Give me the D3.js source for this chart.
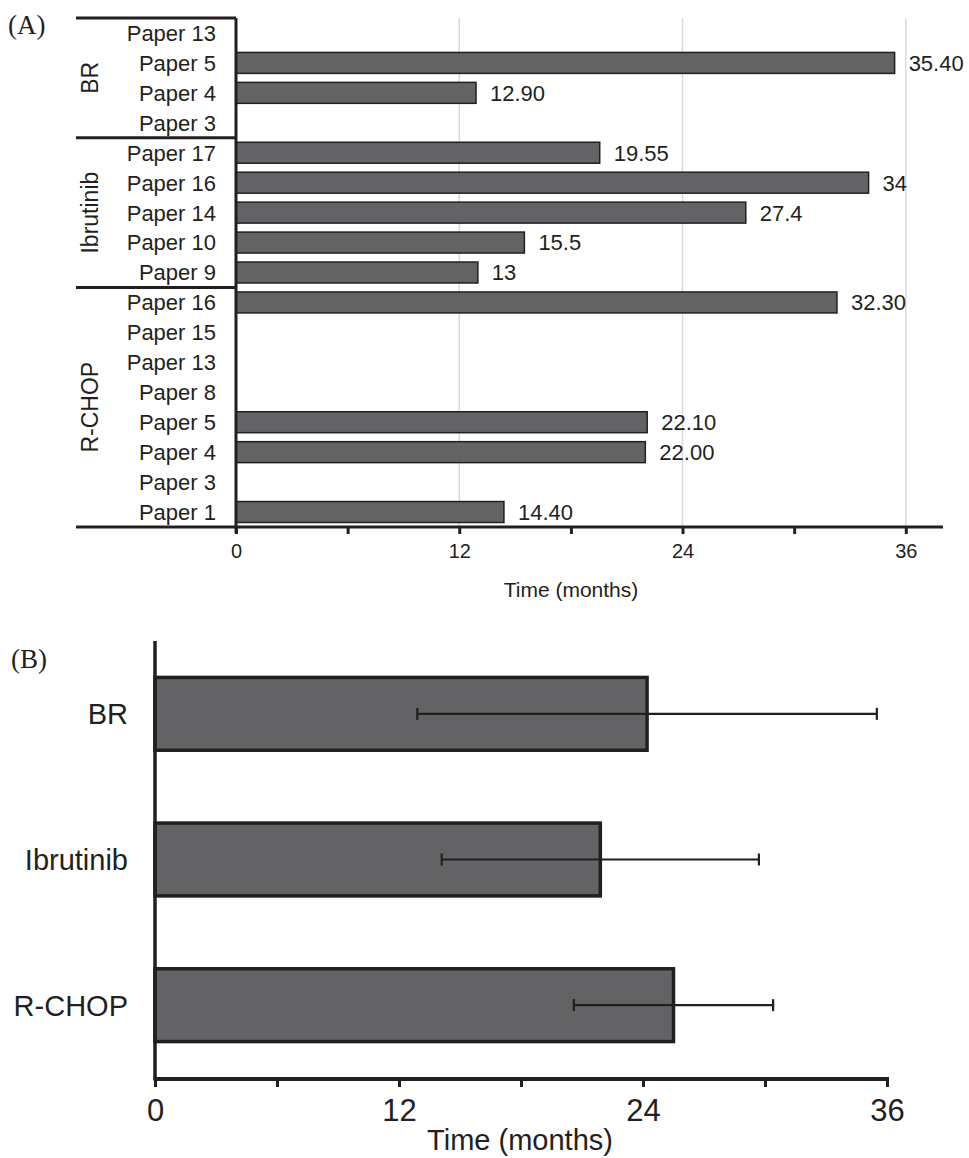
<!doctype html>
<html>
<head>
  <title>Time (months) by paper and treatment</title>
  <script src="https://d3js.org/d3.v7.min.js"></script>
  <style>
  body {
    margin: 0;
    background: #fff;
  }

  svg {
    font-family: "Liberation Sans", Arial, sans-serif;
    fill: #231f20;
  }

  .panel-tag {
    font-family: "Liberation Serif", "Times New Roman", serif;
    font-size: 27px;
  }

  .grid line {
    stroke: #dadada;
    stroke-width: 1.5;
  }

  .axis path {
    display: none;
  }

  .axis line {
    stroke: #231f20;
    stroke-width: 3;
  }

  .axis text {
    fill: #231f20;
    font-family: "Liberation Sans", Arial, sans-serif;
  }

  .bar {
    fill: #636365;
    stroke: #231f20;
  }
</style>
</head>
<body>
  <script>
    // panel A: one row per paper, grouped by regimen
    var groups = ["BR", "Ibrutinib", "R-CHOP"];
    var groupSizes = [4, 5, 8];
    var papers = ["Paper 13", "Paper 5", "Paper 4", "Paper 3",
                  "Paper 17", "Paper 16", "Paper 14", "Paper 10", "Paper 9",
                  "Paper 16", "Paper 15", "Paper 13", "Paper 8", "Paper 5", "Paper 4", "Paper 3", "Paper 1"];
    var values = [null, 35.40, 12.90, null,
                  19.55, 34, 27.4, 15.5, 13,
                  32.30, null, null, null, 22.10, 22.00, null, 14.40];
    var valueLabels = ["", "35.40", "12.90", "",
                       "19.55", "34", "27.4", "15.5", "13",
                       "32.30", "", "", "", "22.10", "22.00", "", "14.40"];
    var ticksA = [0, 6, 12, 18, 24, 30, 36];

    // panel B: summary bar with whiskers per regimen
    var summaryMeans = [24.2, 21.9, 25.5];
    var summaryLow = [12.9, 14.1, 20.6];
    var summaryHigh = [35.5, 29.7, 30.4];
    var ticksB = [0, 6, 12, 18, 24, 30, 36];

    var svg = d3.select("body").append("svg")
        .attr("width", 969)
        .attr("height", 1158);

    // ---------- panel A ----------
    var rows = papers.map(function(p, i){
      return {key: i, paper: p, value: values[i], label: valueLabels[i]};
    });

    var xA = d3.scaleLinear()
        .domain([0, 38])
        .range([236, 943]);

    var yA = d3.scaleBand()
        .domain(rows.map(function(d){ return d.key; }))
        .range([18, 527])
        .paddingInner(0.3)
        .paddingOuter(0.15);

    svg.append("text")
        .attr("class", "panel-tag")
        .attr("x", 8)
        .attr("y", 34)
        .text("(A)");

    svg.append("g")
        .attr("class", "grid")
      .selectAll("line")
        .data([12, 24, 36])
      .enter().append("line")
        .attr("x1", function(d){ return xA(d); })
        .attr("x2", function(d){ return xA(d); })
        .attr("y1", 18)
        .attr("y2", 527);

    svg.append("g")
      .selectAll("rect")
        .data(rows.filter(function(d){ return d.value !== null; }))
      .enter().append("rect")
        .attr("class", "bar")
        .attr("stroke-width", 1.5)
        .attr("x", xA(0))
        .attr("y", function(d){ return yA(d.key); })
        .attr("width", function(d){ return xA(d.value) - xA(0); })
        .attr("height", yA.bandwidth());

    svg.append("g")
      .selectAll("text")
        .data(rows.filter(function(d){ return d.value !== null; }))
      .enter().append("text")
        .attr("x", function(d){ return xA(d.value) + 14; })
        .attr("y", function(d){ return yA(d.key) + yA.bandwidth() / 2; })
        .attr("dy", "0.36em")
        .style("font-size", "22px")
        .text(function(d){ return d.label; });

    // paper labels
    svg.append("g")
      .selectAll("text")
        .data(rows)
      .enter().append("text")
        .attr("x", 216)
        .attr("y", function(d){ return yA(d.key) + yA.bandwidth() / 2; })
        .attr("dy", "0.36em")
        .attr("text-anchor", "end")
        .style("font-size", "22px")
        .text(function(d){ return d.paper; });

    // group boundaries and rotated group names
    var step = yA.step();
    var start = 0, bounds = [];
    groups.forEach(function(g, i){
      bounds.push({name: g, from: start, to: start + groupSizes[i]});
      start += groupSizes[i];
    });

    function rowEdge(k){ return 18 + k * step; }

    svg.append("g")
      .selectAll("line")
        .data([0].concat(bounds.slice(0, -1).map(function(b){ return b.to; })))
      .enter().append("line")
        .attr("x1", 76)
        .attr("x2", 236)
        .attr("y1", function(d){ return rowEdge(d); })
        .attr("y2", function(d){ return rowEdge(d); })
        .attr("stroke", "#231f20")
        .attr("stroke-width", 3);

    svg.append("g")
      .selectAll("text")
        .data(bounds)
      .enter().append("text")
        .attr("transform", function(d){
          return "translate(90," + (rowEdge(d.from) + rowEdge(d.to)) / 2 + ") rotate(-90)";
        })
        .attr("dy", "0.36em")
        .attr("text-anchor", "middle")
        .style("font-size", "23px")
        .text(function(d){ return d.name; });

    // axes
    svg.append("line")
        .attr("x1", xA(0)).attr("x2", xA(0))
        .attr("y1", 18).attr("y2", 533)
        .attr("stroke", "#231f20")
        .attr("stroke-width", 3);

    svg.append("line")
        .attr("x1", 76).attr("x2", 943)
        .attr("y1", 527).attr("y2", 527)
        .attr("stroke", "#231f20")
        .attr("stroke-width", 3);

    var axisA = svg.append("g")
        .attr("class", "axis")
        .attr("transform", "translate(0,527)")
        .call(d3.axisBottom(xA)
          .tickValues(ticksA)
          .tickSize(7)
          .tickPadding(10)
          .tickFormat(function(d){ return d % 12 === 0 ? d : ""; }));
    axisA.selectAll("text").style("font-size", "20px");

    svg.append("text")
        .attr("x", 571)
        .attr("y", 597)
        .attr("text-anchor", "middle")
        .style("font-size", "21px")
        .text("Time (months)");

    // ---------- panel B ----------
    var summary = groups.map(function(g, i){
      return {name: g, mean: summaryMeans[i], low: summaryLow[i], high: summaryHigh[i]};
    });

    var xB = d3.scaleLinear()
        .domain([0, 36])
        .range([155, 887]);

    var yB = d3.scaleBand()
        .domain(groups)
        .range([641, 1078])
        .paddingInner(0.5)
        .paddingOuter(0.25);

    svg.append("text")
        .attr("class", "panel-tag")
        .attr("x", 11)
        .attr("y", 668)
        .text("(B)");

    svg.append("g")
      .selectAll("rect")
        .data(summary)
      .enter().append("rect")
        .attr("class", "bar")
        .attr("stroke-width", 3.5)
        .attr("x", xB(0))
        .attr("y", function(d){ return yB(d.name); })
        .attr("width", function(d){ return xB(d.mean) - xB(0); })
        .attr("height", yB.bandwidth());

    var whisk = svg.append("g")
      .selectAll("g")
        .data(summary)
      .enter().append("g")
        .attr("stroke", "#231f20")
        .attr("stroke-width", 2.2);

    whisk.append("line")
        .attr("x1", function(d){ return xB(d.low); })
        .attr("x2", function(d){ return xB(d.high); })
        .attr("y1", function(d){ return yB(d.name) + yB.bandwidth() / 2; })
        .attr("y2", function(d){ return yB(d.name) + yB.bandwidth() / 2; });

    ["low", "high"].forEach(function(k){
      whisk.append("line")
          .attr("x1", function(d){ return xB(d[k]); })
          .attr("x2", function(d){ return xB(d[k]); })
          .attr("y1", function(d){ return yB(d.name) + yB.bandwidth() / 2 - 6; })
          .attr("y2", function(d){ return yB(d.name) + yB.bandwidth() / 2 + 6; });
    });

    svg.append("g")
      .selectAll("text")
        .data(groups)
      .enter().append("text")
        .attr("x", 128)
        .attr("y", function(d){ return yB(d) + yB.bandwidth() / 2; })
        .attr("dy", "0.36em")
        .attr("text-anchor", "end")
        .style("font-size", "29px")
        .text(function(d){ return d; });

    svg.append("line")
        .attr("x1", xB(0)).attr("x2", xB(0))
        .attr("y1", 641).attr("y2", 1080)
        .attr("stroke", "#231f20")
        .attr("stroke-width", 3.5);

    svg.append("line")
        .attr("x1", xB(0) - 1.5).attr("x2", 889)
        .attr("y1", 1079).attr("y2", 1079)
        .attr("stroke", "#231f20")
        .attr("stroke-width", 4);

    var axisB = svg.append("g")
        .attr("class", "axis")
        .attr("transform", "translate(0,1079)")
        .call(d3.axisBottom(xB)
          .tickValues(ticksB)
          .tickSize(8)
          .tickPadding(12)
          .tickFormat(function(d){ return d % 12 === 0 ? d : ""; }));
    axisB.selectAll("line").attr("stroke-width", 3.5);
    axisB.selectAll("text").style("font-size", "31px");

    svg.append("text")
        .attr("x", 520)
        .attr("y", 1150)
        .attr("text-anchor", "middle")
        .style("font-size", "29px")
        .text("Time (months)");
  </script>
</body>
</html>
